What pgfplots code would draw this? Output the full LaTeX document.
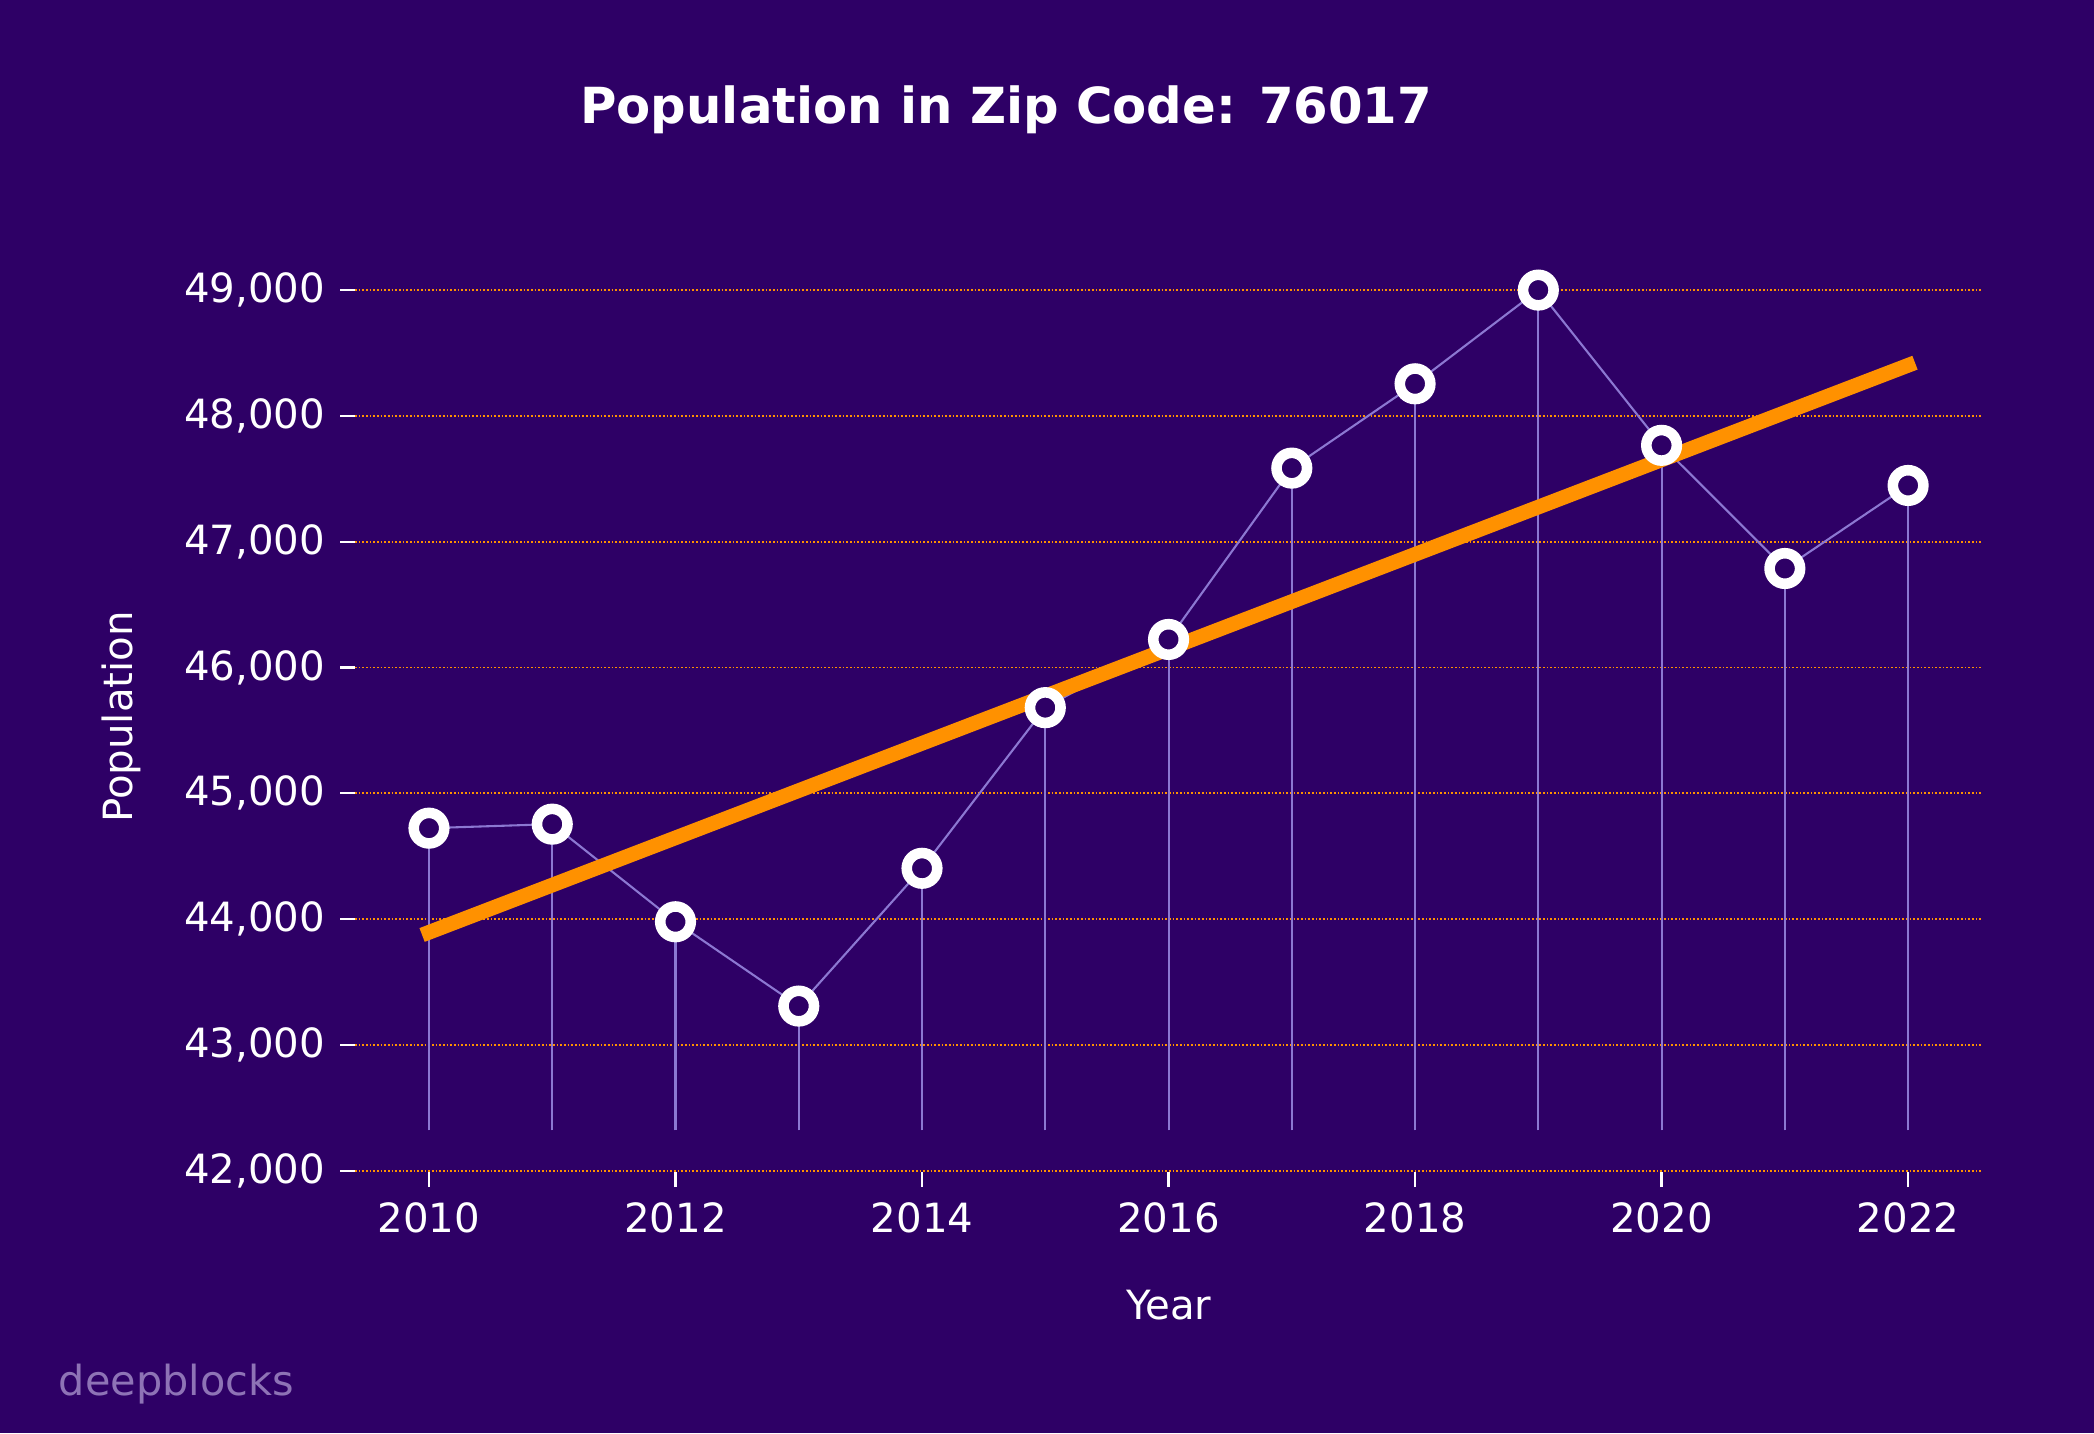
\documentclass[border=0pt]{standalone}
\usepackage{pgfplots}
\pgfplotsset{compat=1.18}
\usepackage{fontspec}
\setmainfont{DejaVu Sans}
\definecolor{bg}{RGB}{46,0,102}
\definecolor{orng}{RGB}{255,145,0}
\definecolor{lav}{RGB}{140,120,210}
\definecolor{wm}{RGB}{142,115,182}
\begin{document}
\begin{tikzpicture}
\fill[bg] (-127.8pt,-94pt) rectangle (626pt,421.9pt);
\begin{axis}[
  at={(0,0)}, anchor=south west,
  scale only axis, width=585.7pt, height=332.6pt,
  xmin=2009.4, xmax=2022.6, ymin=41990, ymax=49334,
  axis line style={draw=none},
  xtick={2010,2012,2014,2016,2018,2020,2022},
  ytick={42000,43000,44000,45000,46000,47000,48000,49000},
  scaled y ticks=false, scaled x ticks=false,
  xtick pos=bottom, ytick pos=left,
  tick align=outside, major tick length=5.4pt,
  tick style={white, line width=0.8pt},
  ymajorgrids, grid style={orng, line width=0.62pt, dash pattern=on 0.6pt off 0.72pt},
  x tick label style={/pgf/number format/1000 sep={}, /pgf/number format/fixed, yshift=-2pt},
  y tick label style={/pgf/number format/1000 sep={,}, /pgf/number format/fixed, xshift=-1.8pt},
  /pgf/number format/assume math mode=true,
  ticklabel style={font=\fontsize{14.5}{17}\selectfont, text=white},
  unbounded coords=jump,
  clip=false,
]
% markers
\addplot[only marks, mark=*, mark size=5.5pt, mark options={draw=white, fill=bg, line width=3.8pt}]
 coordinates {(2010,44723) (2011,44755) (2012,43979) (2013,43309) (2014,44404) (2015,45681) (2016,46223) (2017,47585) (2018,48255) (2019,49000) (2020,47766) (2021,46787) (2022,47447)};
% stems
\addplot[lav, line width=0.75pt, no marks]
 coordinates {(2010,42320) (2010,44723) (2010,nan)
 (2011,42320) (2011,44755) (2011,nan)
 (2012,42320) (2012,43979) (2012,nan)
 (2013,42320) (2013,43309) (2013,nan)
 (2014,42320) (2014,44404) (2014,nan)
 (2015,42320) (2015,45681) (2015,nan)
 (2016,42320) (2016,46223) (2016,nan)
 (2017,42320) (2017,47585) (2017,nan)
 (2018,42320) (2018,48255) (2018,nan)
 (2019,42320) (2019,49000) (2019,nan)
 (2020,42320) (2020,47766) (2020,nan)
 (2021,42320) (2021,46787) (2021,nan)
 (2022,42320) (2022,47447)};
% connecting line
\addplot[lav, line width=0.75pt, no marks]
 coordinates {(2010,44723) (2011,44755) (2012,43979) (2013,43309) (2014,44404) (2015,45681) (2016,46223) (2017,47585) (2018,48255) (2019,49000) (2020,47766) (2021,46787) (2022,47447)};
% trend
\addplot[orng, line width=5.3pt, no marks, line cap=rect]
 coordinates {(2010,43895) (2022,48402)};
\end{axis}
\node[anchor=base, text=white, font=\fontsize{17.9}{21}\selectfont\bfseries] at (234.4pt,377.3pt) {Population in Zip Code: 76017};
\node[anchor=base, text=white, font=\fontsize{14.5}{17}\selectfont] at (292.9pt,-53.1pt) {Year};
\node[anchor=base, rotate=90, text=white, font=\fontsize{14.5}{17}\selectfont] at (-80.2pt,163.8pt) {Population};
\node[anchor=base west, inner sep=0pt, text=wm, font=\fontsize{14.9}{17}\selectfont] at (-106.8pt,-80.3pt) {deepblocks};
\end{tikzpicture}
\end{document}
